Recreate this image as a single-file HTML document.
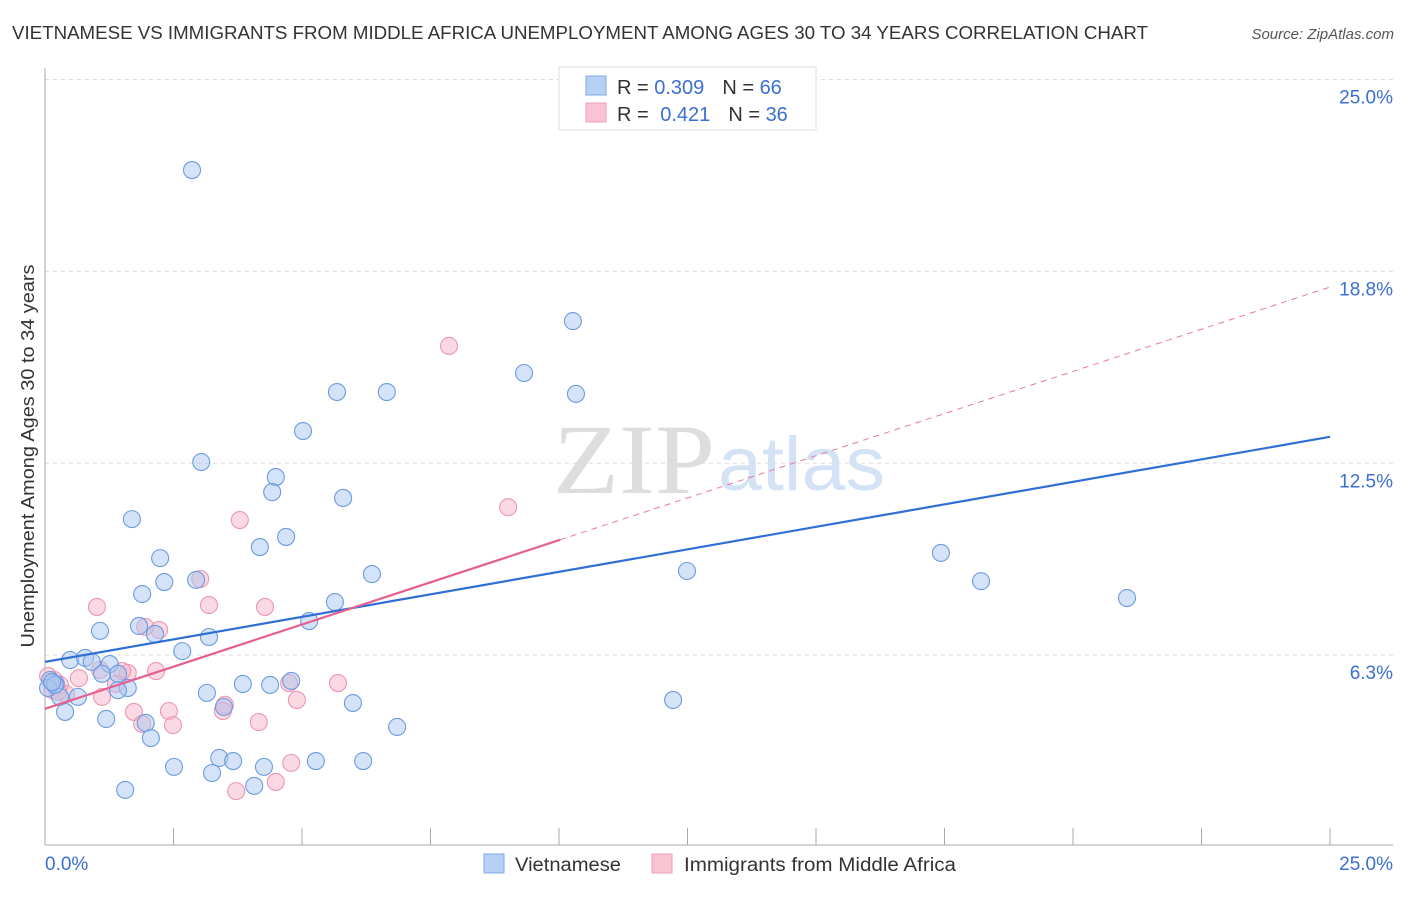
<!DOCTYPE html>
<html><head><meta charset="utf-8">
<style>
body{margin:0;background:#fff;font-family:"Liberation Sans",sans-serif;}
</style></head>
<body>
<svg id="chart" width="1406" height="892" xmlns="http://www.w3.org/2000/svg" style="font-family:'Liberation Sans',sans-serif">
<text x="12" y="39" font-size="18" fill="#333" textLength="1136" lengthAdjust="spacingAndGlyphs">VIETNAMESE VS IMMIGRANTS FROM MIDDLE AFRICA UNEMPLOYMENT AMONG AGES 30 TO 34 YEARS CORRELATION CHART</text>
<text x="1394" y="39" font-size="15" fill="#555" font-style="italic" text-anchor="end">Source: ZipAtlas.com</text>
<g>
<text x="553" y="493" font-size="100" style="font-family:'Liberation Serif',serif" fill="#ddd" textLength="162" lengthAdjust="spacingAndGlyphs">ZIP</text>
<text x="718" y="490" font-size="76" fill="#d3e2f5" textLength="167" lengthAdjust="spacingAndGlyphs">atlas</text>
</g>
<g id="grid"></g>
<g id="axes"></g>
<g id="trends"></g>
<g id="pts"></g>
<text transform="translate(34,456) rotate(-90)" font-size="18" fill="#333" text-anchor="middle" textLength="383" lengthAdjust="spacingAndGlyphs">Unemployment Among Ages 30 to 34 years</text>
<g>
<rect x="559" y="67" width="257" height="63" fill="#fff" stroke="#ddd"/>
<rect x="586" y="76" width="20" height="19" fill="#b7d1f4" stroke="#7fa8e0"/>
<rect x="586" y="103" width="20" height="19" fill="#f9c3d4" stroke="#eea0b9"/>
<text x="617" y="94" font-size="20" fill="#333">R = <tspan fill="#3b6fd1">0.309</tspan><tspan dx="18">N = </tspan><tspan fill="#3b6fd1">66</tspan></text>
<text x="617" y="121" font-size="20" fill="#333">R = <tspan dx="6" fill="#3b6fd1">0.421</tspan><tspan dx="18">N = </tspan><tspan fill="#3b6fd1">36</tspan></text>
</g>
<g>
<rect x="484" y="854" width="20" height="19" fill="#b7d1f4" stroke="#7fa8e0"/>
<text x="515" y="871" font-size="19" fill="#333" textLength="106" lengthAdjust="spacingAndGlyphs">Vietnamese</text>
<rect x="652" y="854" width="20" height="19" fill="#f9c3d4" stroke="#eea0b9"/>
<text x="684" y="871" font-size="19" fill="#333" textLength="272" lengthAdjust="spacingAndGlyphs">Immigrants from Middle Africa</text>
</g>
</svg>
<script>
const yTicks=[6.3,12.5,18.8,25.0];
const yTickVals=[6.25,12.5,18.75,25];
const xTickLabels=["0.0%","25.0%"];
const blueX=[2.86,10.27,9.32,5.68,6.65,10.33,5.02,3.04,4.49,4.42,5.80,1.69,4.69,4.18,2.24,17.43,12.49,6.36,2.32,2.94,18.21,1.89,5.64,21.05,5.14,1.83,2.14,1.07,3.19,2.67,0.49,0.78,1.26,0.91,1.42,1.11,0.10,0.21,1.61,1.42,3.15,3.85,4.38,4.79,0.29,0.64,12.22,5.99,3.48,0.39,1.19,1.96,6.85,2.06,3.39,3.66,5.27,6.19,2.51,3.25,4.26,4.07,1.56,0.06,0.19,0.14];
const blueY=[22.05,17.13,15.44,14.82,14.82,14.76,13.55,12.54,12.05,11.56,11.37,10.68,10.10,9.77,9.41,9.58,8.99,8.89,8.63,8.70,8.66,8.24,7.98,8.11,7.36,7.20,6.94,7.04,6.84,6.38,6.09,6.16,5.96,6.03,5.64,5.64,5.44,5.31,5.18,5.11,5.02,5.31,5.28,5.41,4.89,4.89,4.79,4.69,4.56,4.40,4.17,4.04,3.91,3.55,2.90,2.80,2.80,2.80,2.61,2.41,2.61,1.99,1.86,5.18,5.28,5.37];
const pinkX=[7.86,9.01,3.79,3.02,1.01,3.19,4.28,2.22,1.95,2.16,1.61,1.50,0.66,0.18,0.29,0.14,0.41,1.11,1.38,3.50,5.70,4.75,4.90,1.73,2.41,3.46,1.89,2.49,4.16,4.79,4.49,3.72,0.06,0.25,1.07];
const pinkY=[16.32,11.07,10.65,8.73,7.82,7.88,7.82,7.07,7.17,5.73,5.67,5.73,5.50,5.44,5.28,5.11,4.98,4.89,5.31,4.63,5.34,5.34,4.79,4.40,4.43,4.43,4.01,3.97,4.07,2.74,2.12,1.82,5.57,5.05,5.77];
const blueTrend=[6.03,13.36];
const pinkTrend=[4.50,18.24];
const pinkSolidEnd=10.02;
const NS="http://www.w3.org/2000/svg";
const X=v=>45+v*(1285/25);
const Y=v=>847-v*30.7;
function mk(tag,attrs,parent){const e=document.createElementNS(NS,tag);for(const k in attrs)e.setAttribute(k,attrs[k]);parent.appendChild(e);return e;}
const grid=document.getElementById('grid'),axes=document.getElementById('axes'),trends=document.getElementById('trends'),pts=document.getElementById('pts');
yTickVals.forEach((v,i)=>{
 const l=mk('line',{x1:45,x2:1393,y1:Y(v),y2:Y(v),stroke:'#ddd','stroke-dasharray':'4,4'},grid);
 
 
 const t=mk('text',{x:1393,y:Y(v)+24,'font-size':19,fill:'#3b6fd1','text-anchor':'end'},grid);
 t.textContent=yTicks[i].toFixed(1)+'%';
 
 
});
const ax=mk('line',{x1:45,x2:1393,y1:845,y2:845,stroke:'#aaa'},axes);


const ay=mk('line',{x1:45,x2:45,y1:68,y2:845,stroke:'#aaa'},axes);


for(let i=0;i<=10;i++){
 const tk=mk('line',{x1:X(i*2.5),x2:X(i*2.5),y1:828,y2:845,stroke:'#aaa'},axes);
 
 
}
const xl0=mk('text',{x:45,y:870,'font-size':19,fill:'#3b6fd1'},axes);
xl0.textContent=xTickLabels[0];


const xl1=mk('text',{x:1393,y:870,'font-size':19,fill:'#3b6fd1','text-anchor':'end'},axes);
xl1.textContent=xTickLabels[1];


function dots(xs,ys,fill,stroke,name){
 xs.forEach((x,i)=>{
  const c=mk('circle',{cx:X(x),cy:Y(ys[i]),r:8.5,fill:fill,'fill-opacity':0.5,stroke:stroke,'stroke-width':1.1},pts);
  
  
 });
}
dots(pinkX,pinkY,'#f6b3c7','#ec97b2','point-immigrants-middle-africa');
dots(blueX,blueY,'#aac8f0','#6b9be0','point-vietnamese');
const pe=pinkTrend[0]+(pinkTrend[1]-pinkTrend[0])*pinkSolidEnd/25;
const pd=mk('line',{x1:X(pinkSolidEnd),y1:Y(pe),x2:X(25),y2:Y(pinkTrend[1]),stroke:'#e8789f','stroke-width':1,'stroke-dasharray':'6,5'},trends);


const bt=mk('line',{x1:X(0),y1:Y(blueTrend[0]),x2:X(25),y2:Y(blueTrend[1]),stroke:'#2f6fd6','stroke-width':2.2},pts);


const pt=mk('line',{x1:X(0),y1:Y(pinkTrend[0]),x2:X(pinkSolidEnd),y2:Y(pe),stroke:'#e4608e','stroke-width':2.2},pts);


</script>
</body></html>
